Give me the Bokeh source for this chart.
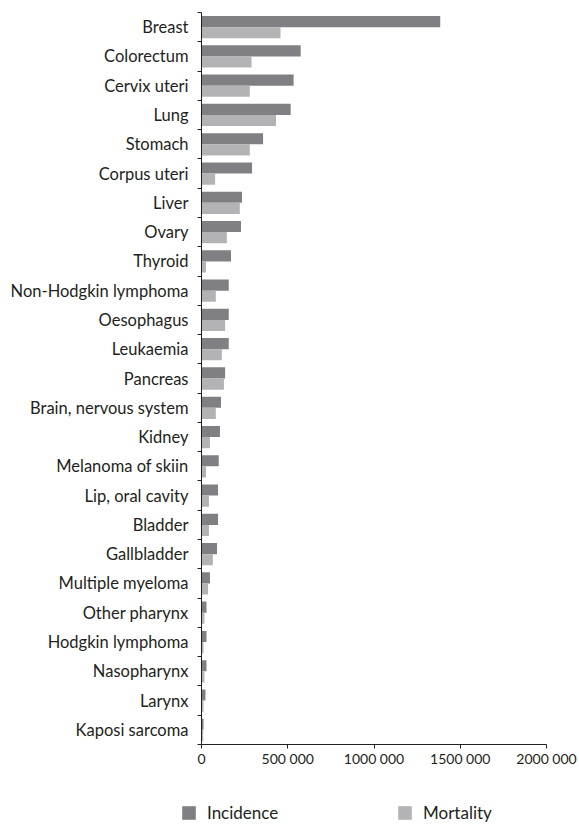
from bokeh.plotting import figure
from bokeh.layouts import column
from bokeh.models import (ColumnDataSource, Range1d, FixedTicker, Legend, LegendItem)
from bokeh.transform import dodge
from bokeh.embed import file_html
from bokeh.resources import INLINE

categories = ["Breast", "Colorectum", "Cervix uteri", "Lung", "Stomach", "Corpus uteri",
              "Liver", "Ovary", "Thyroid", "Non-Hodgkin lymphoma", "Oesophagus", "Leukaemia",
              "Pancreas", "Brain, nervous system", "Kidney", "Melanoma of skiin",
              "Lip, oral cavity", "Bladder", "Gallbladder", "Multiple myeloma",
              "Other pharynx", "Hodgkin lymphoma", "Nasopharynx", "Larynx", "Kaposi sarcoma"]
incidence = [1384000, 575000, 534000, 517000, 357000, 293000, 235000, 229000, 171000,
             158000, 158000, 158000, 137000, 113000, 107000, 100000, 96000, 96000, 90000,
             49000, 29000, 29000, 29000, 23000, 12000]
mortality = [458000, 290000, 280000, 432000, 280000, 79000, 222000, 147000, 26000,
             83000, 137000, 118000, 130000, 83000, 49000, 26000, 43000, 43000, 66000,
             38000, 17000, 12000, 17000, 12000, 10000]
x_ticks = [0, 500000, 1000000, 1500000, 2000000]
x_tick_labels = ["0", "500 000", "1000 000", "1500 000", "2000 000"]
series_names = ["Incidence", "Mortality"]

n = len(categories)
pos = [n - i - 0.5 for i in range(n)]
src = ColumnDataSource(dict(pos=pos, cat=categories, inc=incidence, mort=mortality))

FONT = "Lato"
TXT = "#231f20"
INC_COL = "#808084"
MORT_COL = "#b3b3b6"

p = figure(width=579, height=780, output_backend="svg", toolbar_location=None,
           x_range=Range1d(0, 2000000), y_range=Range1d(0, n),
           min_border_left=201, min_border_right=33, min_border_top=12, min_border_bottom=36)
p.frame_align = False
p.outline_line_color = None
p.xgrid.visible = False
p.ygrid.visible = False

p.hbar(y=dodge("pos", 0.19, range=p.y_range), right="inc", left=0, height=0.38,
       source=src, fill_color=INC_COL, line_color=None)
p.hbar(y=dodge("pos", -0.19, range=p.y_range), right="mort", left=0, height=0.38,
       source=src, fill_color=MORT_COL, line_color=None)

# y axis: labels at category centres, ticks at category boundaries
ya = p.yaxis[0]
ya.ticker = FixedTicker(ticks=pos, minor_ticks=list(range(n + 1)))
ya.major_label_overrides = {pv: c for pv, c in zip(pos, categories)}
ya.major_tick_line_color = None
ya.major_tick_out = 0
ya.major_tick_in = 0
ya.minor_tick_line_color = TXT
ya.minor_tick_out = 4
ya.minor_tick_in = 0
ya.axis_line_color = TXT
ya.major_label_standoff = 9
ya.major_label_text_font = FONT
ya.major_label_text_font_size = "16.5px"
ya.major_label_text_color = TXT

xa = p.xaxis[0]
xa.ticker = FixedTicker(ticks=x_ticks, minor_ticks=[])
xa.major_label_overrides = {t: l for t, l in zip(x_ticks, x_tick_labels)}
xa.major_tick_out = 4
xa.major_tick_in = 0
xa.major_tick_line_color = TXT
xa.minor_tick_line_color = None
xa.axis_line_color = TXT
xa.major_label_standoff = 1
xa.major_label_text_font = FONT
xa.major_label_text_font_size = "14px"
xa.major_label_text_color = TXT

# legend strip below the chart (proxy renderers lie outside its visible range)
lg = figure(width=579, height=44, output_backend="svg", toolbar_location=None,
            x_axis_location=None, y_axis_location=None,
            x_range=Range1d(0, 1), y_range=Range1d(1000, 1001),
            min_border_left=0, min_border_right=0, min_border_top=0, min_border_bottom=0)
lg.frame_align = False
lg.outline_line_color = None
lg.grid.visible = False
proxy_inc = lg.hbar(y="pos", right="inc", left=0, height=0.38, source=src,
                    fill_color=INC_COL, line_color=None)
proxy_mort = lg.hbar(y="pos", right="mort", left=0, height=0.38, source=src,
                     fill_color=MORT_COL, line_color=None)

for name, rend, xloc in zip(series_names, [proxy_inc, proxy_mort], [180, 396]):
    leg = Legend(items=[LegendItem(label=name, renderers=[rend])], location=(xloc, 1),
                 padding=0, margin=0, spacing=0, glyph_width=17, glyph_height=17,
                 label_standoff=10, label_height=17, border_line_color=None,
                 background_fill_alpha=0, label_text_font=FONT,
                 label_text_font_size="17px", label_text_color=TXT)
    lg.add_layout(leg)

open("out.html", "w").write(file_html(column(p, lg, spacing=0), INLINE))
